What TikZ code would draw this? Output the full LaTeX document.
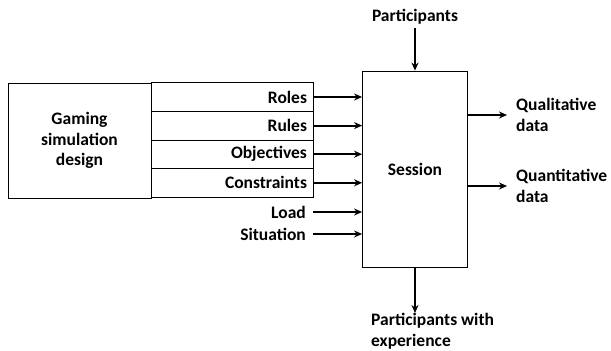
\documentclass[tikz,border=0pt]{standalone}
\usepackage{fontspec}
\setmainfont{Carlito}
\usepackage{tikz}
\usetikzlibrary{arrows.meta}

\begin{document}
\begin{tikzpicture}[x=1pt, y=-1pt,
            box/.style = {draw, line width=0.8pt, inner sep=0pt},
            row/.style = {box, minimum width=162pt, minimum height=28.6pt, text width=150pt, align=right},
            lbl/.style = {font=\fontsize{17.5}{20.5}\selectfont\bfseries},
            arr/.style = {line width=2pt, -{Stealth[length=8pt, width=7pt]}}]
            \useasboundingbox (0,0) rectangle (611,351);
            \node[box, lbl, minimum width=143pt, minimum height=115pt, align=center] (design) at (79.5,140.5) {Gaming\\simulation\\design};
            \node[row, lbl] (roles) at (232,97) {Roles};
            \node[row, lbl] (rules) at (232,125.6) {Rules};
            \node[row, lbl] (objectives) at (232,154.2) {Objectives};
            \node[row, lbl] (constraints) at (232,182.8) {Constraints};
            \node[lbl, anchor=east, inner xsep=7pt] (load) at (313,212) {Load};
            \node[lbl, anchor=east, inner xsep=7pt] (situation) at (313,234) {Situation};
            \node[box, lbl, minimum width=105pt, minimum height=196pt] (session) at (415,169) {Session};
            \node[lbl] (participants) at (415,17) {Participants};
            \node[lbl, anchor=north west, align=left, inner sep=0pt] (outcome) at (371,313) {Participants with\\experience};
            \node[lbl, anchor=west, align=left, inner xsep=9pt] (qualitative) at (507,115) {Qualitative\\data};
            \node[lbl, anchor=west, align=left, inner xsep=9pt] (quantitative) at (507,186) {Quantitative\\data};
            \foreach \n in {roles, rules, objectives, constraints, load, situation}
                \draw[arr] (\n.east) -- (\n.east -| session.west);
            \draw[arr] (participants.south) -- (session.north);
            \draw[arr] (session.south) -- (session.south |- outcome.north);
            \draw[arr] (session.east |- qualitative.west) -- (qualitative.west);
            \draw[arr] (session.east |- quantitative.west) -- (quantitative.west);
\end{tikzpicture}
\end{document}
